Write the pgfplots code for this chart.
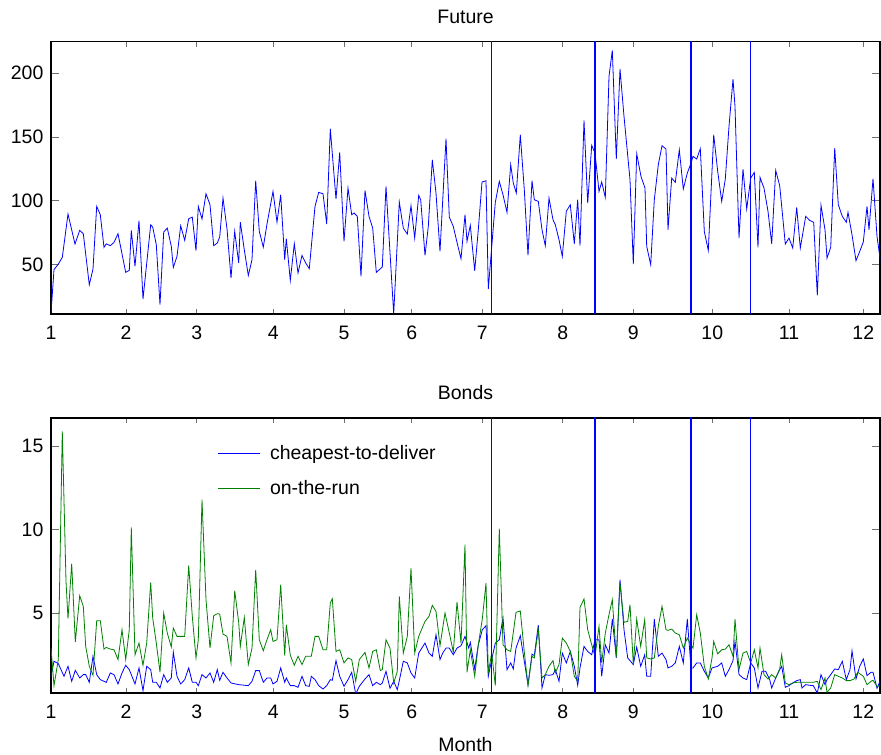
\documentclass[border=0pt]{standalone}
\usepackage{fontspec}
\setmainfont{Liberation Sans}
\usepackage{pgfplots}
\pgfplotsset{compat=1.18}
\definecolor{mgreen}{RGB}{0,128,0}
\definecolor{tickgray}{RGB}{110,110,110}
\newcommand{\fs}{\fontsize{14.6}{17}\selectfont}
\pgfplotsset{
  myax/.style={
    scale only axis, width=621.75pt,
    xmin=0, xmax=829,
    xtick={0,75,145.7,222.3,293,360.7,431.3,511.7,582.3,661.3,738,812.3},
    xticklabels={1,2,3,4,5,6,7,8,9,10,11,12},
    xtick style={tickgray, line width=0.6pt, /pgfplots/major tick length=4pt},
    ytick style={tickgray, line width=0.6pt, /pgfplots/major tick length=6pt},
    axis line style={line width=0.9pt},
    font=\fs,
    /pgf/number format/assume math mode=true,
    tick label style={font=\fs},
    xticklabel style={inner sep=0pt, yshift=-9pt},
    yticklabel style={inner sep=0pt, xshift=-5.5pt},
    title style={font=\fs, yshift=4pt},
    clip=true,
  },
  vline/.style={blue, line width=0.8pt, forget plot},
  vlineA/.style={blue, line width=0.6pt, forget plot},
}
\begin{document}
\begin{tikzpicture}
\useasboundingbox (-38.25pt,-46.5pt) rectangle (622.5pt,519.75pt);
% top axis
\begin{axis}[myax, at={(0pt,284.25pt)}, anchor=south west, height=204.5pt,
  ymin=11.4, ymax=225, ytick={50,100,150,200}, title={Future}]
\addplot[blue, line width=0.6pt] table {
0 12.1
3 46.1
7.3 50.5
11.3 55.7
17 89.7
24 66.2
28.7 76.9
32.3 74.3
38.3 34.3
42 46.6
45.7 95.7
49.3 89.2
53 63.6
55.3 66.4
59.3 64.9
63 67.5
67 74.3
74.7 44
78.3 45.6
80.3 76.9
84 48.7
88 84.5
92 23.1
99.7 81.3
101.7 79.5
105.3 65.7
109 18.7
112.7 75.6
116.3 78.7
120.3 64.4
122.3 47.9
126 56.5
129.7 80.5
133.7 69.1
137.7 86
141.3 87.3
145 61
147.3 95.7
151 85.8
155 105.6
159 97
162.7 64.9
166.3 67
168.7 71.7
172 102.2
176 78.2
180 39.6
183.7 76.1
187.7 51.3
189.3 83.4
193.3 61.7
197.3 41.6
201 53.9
204.7 115.8
208.3 76.1
212.3 63.8
216 81.9
222 107.4
226 83.4
229.7 104.8
233.7 53.9
235.3 70.4
239.3 37.7
243.3 66.4
247 43.5
251 57.3
254.7 51.3
258.3 46.9
264 95.7
267.7 106.7
272 105.6
275.7 81.9
279.3 156.5
285 101.4
288.7 138
293 68.3
297 110
300.7 89.2
303 90.5
306.3 87.9
310 40.9
314 108.2
318 87.9
321.7 78.7
325.3 44
331.3 48.2
335 111.4
342.7 11.6
348.3 99.1
352.3 78.7
356.3 74
360 96.2
363.7 70.9
367.7 104.3
369.7 100.9
374 57.3
377.3 80
381.3 132.2
385 106.1
389 60.4
395 148.7
398.3 87.3
402.3 80
406 67.5
410 54.7
414 89.2
416 68.3
419.3 80.8
423.7 45.3
427.3 77.4
431 114.8
435 115.8
437.3 30.9
444.3 98.8
448.3 115.3
452 104.8
456 91
459.7 128.3
462.3 114
465.3 106.1
469.3 151.8
473.3 108.7
477 57.3
481 115.8
483.3 100.9
487.3 99.6
491 77.4
494.3 64.9
498 102.2
502 85.2
504.3 81.3
508 69.6
511.3 56.5
515.3 91.8
519.3 97
523.3 66.4
526.7 100.9
529 64.9
533 163.1
536.7 98.3
540.7 143.5
544 137.5
548 107.4
550.7 114.8
554.3 102.7
558 197.5
561.3 217.9
565.3 132.8
569 203.3
573 166.2
579 116.6
582.3 50.5
585.7 136.9
590 119.2
594 110
595.7 64.4
599.7 50
603.3 100.9
607.3 128.3
611 143.2
615 140.6
617 77.4
620.7 117.9
624.3 114.5
628.3 140
632.3 109.3
636.3 121.8
640 129.6
642 134.9
645.7 132.8
649.3 140.9
653.3 76.1
657.3 61.2
662.7 151.8
666.7 123.1
670.7 99.6
674.3 117.1
678 158.4
682 195.4
684 174
688 70.9
692 124.9
695.7 93.6
699.7 117.9
703.3 122.3
707 63.6
709 118.4
713 110
717 91.8
720.7 66.4
724.7 123.9
728.7 111.9
730.7 95.7
734.3 66.2
738 70.9
741.7 63.1
745.7 94.9
749.3 63.1
754.7 87.9
758.7 84.7
762.7 83.2
766.3 26
770 96.5
774 77.4
776 55.2
779.7 63.6
783.7 141.4
787.3 97
791.3 87.9
795.3 83.2
797 91
801 73.5
805 53.1
808.7 60.4
812.3 67.8
816 95.7
818 77.4
822 117.4
826 72.2
829.7 51.3
};
\addplot[vlineA] coordinates {(440.3,0) (440.3,300)};
\addplot[vline] coordinates {(544,0) (544,300)};
\addplot[vline] coordinates {(640,0) (640,300)};
\addplot[vline] coordinates {(699.7,0) (699.7,300)};
\end{axis}
% bottom axis
\begin{axis}[myax, at={(0pt,0pt)}, anchor=south west, height=206.25pt,
  ymin=0.23, ymax=16.7, ytick={5,10,15}, title={Bonds}, xlabel={Month},
  xlabel style={font=\fs, yshift=-10pt},
  legend style={draw=none, fill=none, at={(0.201,0.912)}, anchor=north west,
    font=\fs, row sep=10.5pt, inner sep=0pt,
    /tikz/every odd column/.append style={column sep=0pt}},
  legend cell align=left,
  legend image code/.code={\draw[#1] (0pt,0pt) -- (31.5pt,0pt);},
  /tikz/every even column/.append style={column sep=0pt},
  ]
\addplot[blue, line width=0.6pt] table {
0 1.23
3 2.13
7.3 1.99
13 1.23
17 1.83
20.7 0.93
24.3 1.59
28.7 1.13
32.3 1.33
34.7 1.33
38.3 0.87
42 2.43
45.7 1.33
49.3 1.03
55.3 0.87
59.3 1.43
63 1.33
67 0.77
71 1.43
74.7 1.89
78.3 1.63
84 0.77
88 1.73
92 0.37
95.7 1.83
99.7 1.63
101.7 0.87
105.3 0.87
109 0.53
112.7 1.33
116.3 0.87
120.3 1.13
122.3 2.68
126 1.23
129.7 0.77
133.7 1.03
137.7 1.73
141.3 0.87
145 0.87
147.3 0.67
151 1.33
155 1.13
159 1.43
162.7 0.87
166.3 1.63
168.7 0.99
172 1.47
176 1.13
180 0.83
187.7 0.73
197.3 0.67
201 0.93
204.7 1.57
208.3 1.57
212.3 0.87
216 1.13
219.7 1.13
222 0.77
226 0.93
229.7 1.73
233.7 0.87
235.3 1.13
239.3 0.67
243.3 0.67
247 0.57
251 1.23
254.7 0.67
258.3 0.63
260.3 1.23
264 1.03
267.7 0.67
272 0.47
275.7 0.67
279.3 1.03
281.3 0.99
285 2.17
288.7 1.23
293 0.63
297 1.03
300.7 1.47
304.7 0.17
308.3 0.63
314 1.07
318 1.33
321.7 0.67
325.3 0.87
329.3 0.73
331.3 0.83
335 1.53
339 0.51
342.7 0.93
346.3 0.43
348.3 0.97
352.3 2.13
356.3 2.03
360 1.43
363.7 1.13
367.7 2.62
374 3.22
378 2.62
381.3 2.43
385 3.72
389 2.23
391.7 2.62
395 2.92
398.3 2.92
402.3 2.52
406 2.92
410 3.06
414 3.62
417.7 2.92
419.3 3.26
423.7 1.67
427.3 3.12
431.3 4.02
435 4.26
437.3 1.23
440.7 2.23
444.3 3.22
448.3 3.42
452 4.72
456 1.63
459.7 2.03
462.3 1.67
465 2.92
469.3 3.66
473.3 2.13
477 0.73
481 2.56
483.3 2.47
487.3 4.30
491 0.53
494.3 1.33
498 1.29
502 1.33
504.3 1.63
508 0.93
511.3 2.62
515.3 2.03
519.3 2.72
523.3 1.83
526.7 0.69
529 1.73
533 3.02
536.7 2.72
540.7 2.52
544 3.42
548 3.42
550.7 1.23
554.3 3.12
558 2.62
561.3 4.66
565.3 2.33
569 7.02
573 4.02
576.7 2.33
582.3 1.93
585.7 2.98
589.7 1.83
593.7 2.52
595.7 1.23
599.7 1.23
603.3 4.66
607.3 2.43
611 2.62
615 2.23
617 1.73
620.7 1.83
624.3 2.03
628.3 3.02
632.3 2.03
636.3 4.66
640 1.73
642 1.73
645.7 2.03
649.3 2.03
653.3 1.53
657.3 1.13
661 1.73
666.7 1.83
670.7 2.03
674.3 1.23
678 1.63
682 2.17
684 3.32
688 1.33
692 1.13
695.7 1.03
699.7 2.03
703.3 1.73
707 0.53
711 1.53
714.7 1.53
718.7 1.03
720.7 0.53
724.7 1.13
728.7 1.63
730.7 1.83
734.3 0.57
738 0.67
741.7 0.83
745.7 0.97
749.3 1.03
751 0.53
754.7 0.73
758.7 0.69
762.3 0.67
766.3 0.23
770 1.33
774 0.73
776 1.03
779.7 1.33
783.7 1.67
787.3 1.63
791.3 2.13
795.3 1.03
799 1.63
801 2.76
805 1.07
808.7 1.83
812.3 2.27
816 1.27
820 1.47
822 1.47
826 0.51
829.7 1.03
};
\addlegendentry{\hspace{5pt}cheapest-to-deliver}
\addplot[mgreen, line width=0.6pt] table {
0 2.92
3 0.67
7.3 2.23
11.3 15.9
15 6.92
17 4.68
20.7 7.97
24.3 3.28
28.7 6.06
32.3 5.42
34.7 3.02
38.3 1.83
42 1.29
45.7 4.56
49.3 4.56
53 2.86
55.3 2.96
59.3 2.86
63 2.82
67 2.23
71 4.02
74.7 2.23
78.3 4.02
80.3 10.15
84 2.52
88 3.22
92 1.89
95.7 3.22
99.7 6.86
101.7 4.72
105.3 3.22
109 1.47
112.7 5.02
116.3 3.82
120.3 2.98
122.3 4.12
126 3.62
133.7 3.62
137.7 7.87
141.3 4.82
145 2.33
147.3 3.42
151 11.81
155 5.82
159 2.92
162.7 4.86
166.3 4.98
168.7 4.96
172 3.76
176 3.62
180 2.03
183.7 6.36
187.7 4.46
189.3 3.02
193.3 4.76
197.3 1.93
201 2.92
204.7 7.61
208.3 3.42
212.3 2.76
216 3.42
219.7 4.02
222 3.32
226 3.42
229.7 6.72
233.7 2.47
235.3 4.32
239.3 2.49
243.3 1.89
247 2.43
251 1.93
254.7 2.43
260.3 2.43
264 3.62
267.7 3.62
272 2.82
275.7 2.82
279.3 5.62
281.3 5.88
285 2.72
288.7 2.82
293 2.03
297 2.33
300.7 2.23
304.7 0.93
308.3 2.23
314 2.66
318 1.73
321.7 2.72
325.3 2.82
329.3 1.57
331.3 1.63
335 3.42
339 2.92
342.7 0.83
346.3 1.53
348.3 6.02
352.3 2.62
356.3 3.62
360 7.71
363.7 2.62
367.7 3.62
374 4.52
378 4.82
381.3 5.48
385 5.12
389 3.06
394 5.02
398.3 3.82
402.3 2.68
406 5.68
410 3.22
414 9.11
416 1.47
419.3 2.82
423.7 1.23
427.3 3.12
431.3 4.66
435 6.82
437.3 1.47
440.7 2.62
444.3 0.67
448.3 10.07
452 3.12
456 2.82
459.7 2.72
465 5.06
469.3 5.14
473.3 2.68
477 0.67
481 2.43
483.3 2.33
487.3 4.02
491 1.13
494.3 1.33
498 1.83
502 2.17
504.3 1.43
508 1.93
511.3 3.52
515.3 3.22
519.3 2.72
523.3 1.23
526.7 0.93
529 5.36
533 5.86
536.7 4.02
540.7 3.12
544 2.43
548 4.22
550.7 2.03
554.3 3.82
558 4.92
561.3 5.82
565.3 2.37
569 6.82
573 4.46
576.7 4.52
579 5.52
582.3 1.93
585.7 4.66
589.7 3.02
593.7 4.62
595.7 2.33
599.7 2.27
603.3 2.33
607.3 4.22
611 5.42
615 4.02
617 3.98
620.7 4.06
624.3 3.82
628.3 3.72
632.3 2.92
636.3 3.52
640 3.12
642 2.92
645.7 4.92
649.3 3.82
653.3 1.83
657.3 1.07
661 2.33
662.7 3.32
666.7 2.58
670.7 2.82
674.3 2.86
678 3.12
682 2.43
684 4.66
688 1.63
692 2.62
695.7 2.72
699.7 2.03
703.3 2.82
707 1.73
709 2.92
713 1.33
717 1.07
720.7 1.33
724.7 1.13
728.7 1.67
730.7 2.52
734.3 0.83
738 0.73
741.7 0.83
745.7 0.87
749.3 0.87
754.7 0.87
758.7 0.87
762.3 0.87
766.3 0.93
770 0.43
774 1.13
776 0.27
779.7 0.53
783.7 1.33
787.3 1.23
791.3 1.13
795.3 0.97
799 0.97
803 1.07
806.7 1.47
812.3 1.23
816 0.73
820 0.93
822 0.99
826 0.63
829.7 0.67
};
\addlegendentry{\hspace{5pt}on-the-run}
\addplot[vlineA] coordinates {(440.3,-1) (440.3,20)};
\addplot[vline] coordinates {(544,-1) (544,20)};
\addplot[vline] coordinates {(640,-1) (640,20)};
\addplot[vline] coordinates {(699.7,-1) (699.7,20)};
\end{axis}
\end{tikzpicture}
\end{document}
